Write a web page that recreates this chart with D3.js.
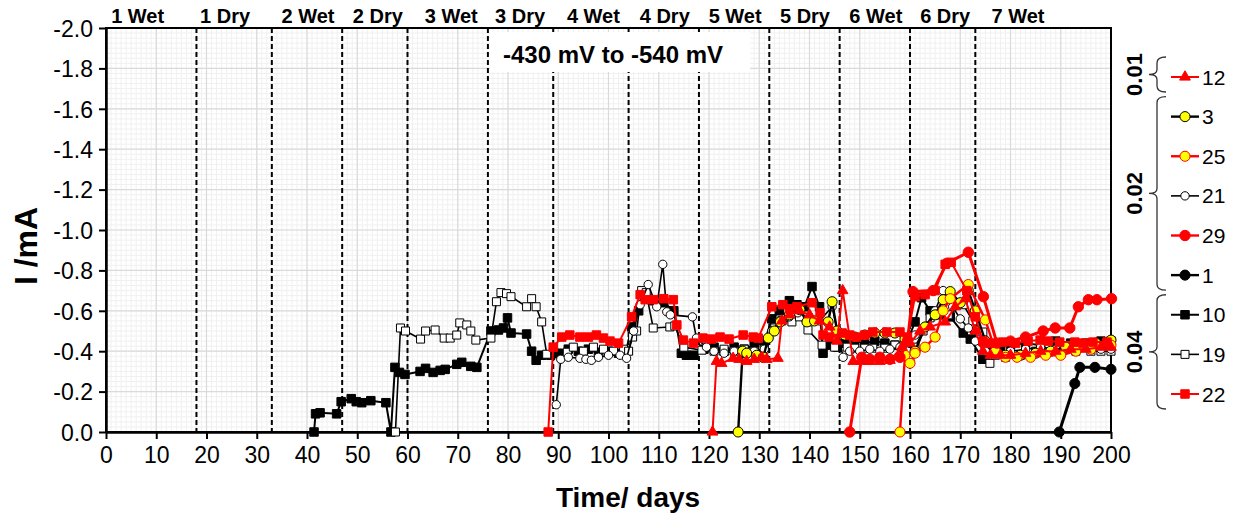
<!DOCTYPE html>
<html lang="en">
<head>
<meta charset="UTF-8">
<title>I vs time</title>
<style>
  * { margin: 0; padding: 0; }
  body { background: #fff; }
  svg text { font-family: Arial, "Liberation Sans", sans-serif; fill: #000; }
</style>
</head>
<body>
<div id="chart-area"></div>
<script src="https://cdn.jsdelivr.net/npm/d3@7/dist/d3.min.js"></script>
<script>
// cycle boundaries (days) and the labels along the top
const phaseDays = [18, 33, 47, 60, 76, 89, 104, 118, 132, 146, 160, 173]
const phaseLabels = ['1 Wet', '1 Dry', '2 Wet', '2 Dry', '3 Wet', '3 Dry', '4 Wet', '4 Dry', '5 Wet', '5 Dry', '6 Wet', '6 Dry', '7 Wet']
const phaseLabelDays = [6.3, 23.7, 40.2, 54.1, 68.7, 82.4, 97, 111.2, 125.2, 139.1, 153.2, 167, 181.5]

const xTicks = d3.range(0, 201, 10)
const yTicks = [0, -0.2, -0.4, -0.6, -0.8, -1.0, -1.2, -1.4, -1.6, -1.8, -2.0]

// [day, I (mA)]
const s10 = [[41.4,0],[41.7,-0.09],[42.6,-0.095],[45.9,-0.09],[46.8,-0.15],[48.8,-0.165],[49.8,-0.15],[50.9,-0.145],[52.7,-0.155],[55.7,-0.145],[56.7,0],[57.5,-0.32],[58.4,-0.295],[59.5,-0.285],[62.5,-0.3],[63.6,-0.315],[65.1,-0.295],[66.5,-0.305],[67.5,-0.31],[69.8,-0.335],[70.8,-0.345],[72.6,-0.325],[73.8,-0.32],[76.6,-0.5],[78.1,-0.505],[79.1,-0.515],[79.9,-0.565],[80.6,-0.49],[83.7,-0.485],[84.7,-0.4],[85.6,-0.355],[86.7,-0.38],[88.5,-0.38],[90,-0.39],[92,-0.41],[94,-0.4],[96,-0.41],[98,-0.39],[100,-0.4],[102,-0.39],[103.5,-0.4],[104.6,-0.52],[106,-0.6],[107.5,-0.66],[109,-0.65],[111,-0.64],[113,-0.6],[114.5,-0.39],[115.5,-0.38],[117,-0.38],[119,-0.41],[121,-0.42],[123,-0.4],[125,-0.42],[127,-0.41],[129,-0.43],[131,-0.44],[132.5,-0.56],[134,-0.6],[136,-0.65],[137.5,-0.63],[139,-0.62],[140.5,-0.72],[142,-0.62],[142.7,-0.39],[144,-0.43],[145.5,-0.42],[147,-0.44],[149,-0.45],[151,-0.44],[153,-0.45],[155,-0.44],[157,-0.43],[159,-0.42],[161,-0.545],[162.3,-0.665],[164,-0.6],[166,-0.58],[168,-0.57],[170.6,-0.49],[172,-0.46],[174.5,-0.36],[176,-0.41],[178,-0.42],[180,-0.43],[183,-0.44],[186,-0.43],[189,-0.45],[192,-0.44],[195,-0.44],[198,-0.45],[200,-0.45]]
const s19 = [[57.6,0],[58.6,-0.515],[59.6,-0.5],[62.6,-0.46],[63.6,-0.5],[65.5,-0.505],[67.3,-0.465],[68.5,-0.465],[69.8,-0.48],[70.4,-0.54],[71.8,-0.53],[72.6,-0.5],[73.6,-0.455],[76.6,-0.465],[77.7,-0.645],[78.6,-0.69],[79.7,-0.685],[80.6,-0.67],[83.7,-0.62],[84.7,-0.66],[85.6,-0.62],[86.7,-0.545],[87.7,-0.385],[91.8,-0.395],[93,-0.42],[95,-0.4],[97,-0.42],[99,-0.41],[101,-0.4],[103,-0.41],[104,-0.4],[104.8,-0.47],[105.6,-0.5],[106.6,-0.7],[107.5,-0.69],[108.9,-0.515],[112.2,-0.52],[113.2,-0.525],[115,-0.42],[118.6,-0.405],[121,-0.4],[123,-0.41],[125,-0.4],[127,-0.41],[129,-0.4],[131,-0.41],[133.1,-0.515],[134.5,-0.55],[136.5,-0.545],[138,-0.57],[139.7,-0.505],[142.5,-0.43],[145,-0.42],[147.5,-0.42],[149,-0.415],[151,-0.415],[152.6,-0.415],[155,-0.415],[157,-0.43],[159,-0.42],[160,-0.36],[161,-0.42],[162.6,-0.5],[164,-0.565],[165.4,-0.59],[167.6,-0.58],[170.6,-0.63],[172.5,-0.55],[174.5,-0.495],[175.9,-0.34],[177,-0.38],[179,-0.37],[182,-0.38],[185,-0.4],[187,-0.39],[190,-0.41],[193,-0.4],[196,-0.4],[198,-0.4],[200,-0.4]]
const s22 = [[88,0],[89,-0.42],[90.7,-0.47],[92.3,-0.48],[94.3,-0.47],[96,-0.47],[97.6,-0.48],[99,-0.465],[100.3,-0.45],[102,-0.44],[104.6,-0.57],[106.3,-0.68],[107.3,-0.655],[108.9,-0.655],[111,-0.66],[112.9,-0.655],[113.6,-0.53],[114.9,-0.455],[116.9,-0.44],[118.8,-0.465],[120.5,-0.46],[122.2,-0.47],[124,-0.46],[126.8,-0.48],[128.8,-0.47],[129.8,-0.465],[132.5,-0.62],[134.7,-0.63],[136,-0.61],[137.5,-0.62],[140.5,-0.64],[142.1,-0.59],[142.7,-0.48],[144,-0.47],[146.5,-0.49],[148,-0.48],[149.4,-0.47],[151,-0.48],[152.6,-0.495],[155.4,-0.495],[158,-0.495],[159.5,-0.47],[161,-0.67],[163,-0.68],[165,-0.7],[167,-0.83],[168.2,-0.84],[171.3,-0.7],[173,-0.57],[174.5,-0.45],[175.9,-0.44],[178.5,-0.445],[181,-0.44],[183.5,-0.45],[185.9,-0.455],[187.5,-0.45],[189.8,-0.445],[192.8,-0.445],[194.5,-0.44],[196.4,-0.445],[199.2,-0.445]]
const s29 = [[148,0],[150.4,-0.37],[152,-0.36],[154,-0.37],[156,-0.36],[158,-0.37],[159.5,-0.45],[160.6,-0.695],[164.6,-0.7],[167.3,-0.835],[171.6,-0.89],[174.6,-0.67],[177.3,-0.44],[180,-0.45],[183,-0.47],[186.5,-0.5],[188.9,-0.515],[191.8,-0.515],[193.5,-0.62],[195.5,-0.655],[197.2,-0.655],[200.1,-0.66]]
const s12 = [[120.7,0],[121.5,-0.35],[122.5,-0.34],[124.8,-0.365],[126,-0.36],[127.5,-0.35],[129,-0.36],[130.5,-0.37],[131.5,-0.36],[133.7,-0.365],[134.5,-0.55],[136,-0.58],[138,-0.6],[140,-0.58],[142,-0.55],[144,-0.52],[145.5,-0.45],[146.6,-0.7],[148.7,-0.35],[150.4,-0.35],[152,-0.35],[154,-0.35],[156,-0.355],[158.4,-0.42],[160,-0.44],[162,-0.5],[164,-0.52],[167,-0.545],[169,-0.62],[171,-0.66],[173,-0.5],[174.5,-0.4],[176,-0.38],[178,-0.38],[180,-0.38],[183,-0.39],[186,-0.4],[189,-0.4],[192,-0.41],[195,-0.41],[198,-0.42],[200,-0.42]]
const s3 = [[125.8,0],[126.7,-0.4],[127.5,-0.39],[129.5,-0.38],[130.8,-0.37],[131.8,-0.465],[133,-0.5],[134.2,-0.545],[136,-0.58],[138.1,-0.605],[139.5,-0.545],[141,-0.55],[143.7,-0.545],[144.5,-0.645],[145.5,-0.5],[147,-0.48],[149,-0.47],[151,-0.48],[153,-0.49],[155,-0.49],[157,-0.49],[159,-0.46],[161,-0.4],[163,-0.52],[165,-0.58],[166.6,-0.655],[168,-0.695],[170,-0.64],[171.6,-0.7],[173,-0.6],[175,-0.45],[177,-0.4],[179,-0.38],[182,-0.38],[185,-0.39],[188,-0.4],[191,-0.42],[194,-0.43],[197,-0.44],[200,-0.455]]
const s25 = [[158,0],[159,-0.38],[160,-0.34],[161,-0.39],[163,-0.42],[165,-0.47],[166.6,-0.6],[168,-0.66],[171.6,-0.73],[175,-0.555],[177,-0.4],[179,-0.37],[181.3,-0.37],[184,-0.37],[187,-0.38],[190,-0.38],[193,-0.4],[196,-0.41],[200,-0.43]]
const s21 = [[89.6,-0.135],[90.5,-0.36],[92,-0.37],[94.3,-0.365],[95.5,-0.36],[96.6,-0.355],[98,-0.37],[100,-0.38],[102.3,-0.38],[103.6,-0.365],[105,-0.5],[106.3,-0.63],[107.9,-0.73],[109.6,-0.62],[110.8,-0.83],[111.6,-0.595],[112.3,-0.58],[116.7,-0.57],[117.5,-0.465],[119.5,-0.42],[121,-0.4],[123,-0.39],[125,-0.4],[127,-0.39],[129,-0.4],[131,-0.41],[132.5,-0.5],[134,-0.55],[136,-0.57],[137.7,-0.59],[140.1,-0.565],[142,-0.55],[144.5,-0.62],[146.7,-0.37],[148,-0.4],[150,-0.4],[152,-0.41],[154,-0.4],[156,-0.41],[158,-0.42],[159.5,-0.4],[161,-0.48],[163,-0.52],[165,-0.6],[166.6,-0.7],[168.5,-0.62],[170,-0.56],[171.6,-0.515],[173,-0.45],[175,-0.4],[177,-0.39],[180,-0.4],[183,-0.41],[186,-0.42],[189,-0.41],[192,-0.42],[195,-0.42],[198,-0.41],[200,-0.41]]
const s1 = [[189.7,0],[192.8,-0.24],[193.8,-0.32],[196.8,-0.32],[200,-0.31]]

// legend groups (right side)
const legendGroups = [
  {label: '0.01', keys: ['12']},
  {label: '0.02', keys: ['3', '25', '21', '29', '1']},
  {label: '0.04', keys: ['10', '19', '22']}
]

const series = {
  '10': {data: s10, line: '#000', lw: 2, shape: d3.symbolSquare, size: 72, fill: '#000', stroke: '#000'},
  '19': {data: s19, line: '#000', lw: 1.6, shape: d3.symbolSquare, size: 64, fill: '#fff', stroke: '#000'},
  '21': {data: s21, line: '#000', lw: 1.6, shape: d3.symbolCircle, size: 55, fill: '#fff', stroke: '#000'},
  '3': {data: s3, line: '#000', lw: 2.4, shape: d3.symbolCircle, size: 80, fill: '#ffff00', stroke: '#000'},
  '25': {data: s25, line: '#ff0000', lw: 2.4, shape: d3.symbolCircle, size: 80, fill: '#ffff00', stroke: '#ff0000'},
  '12': {data: s12, line: '#ff0000', lw: 2, shape: d3.symbolTriangle, size: 50, fill: '#ff0000', stroke: '#ff0000'},
  '29': {data: s29, line: '#ff0000', lw: 3, shape: d3.symbolCircle, size: 85, fill: '#ff0000', stroke: '#ff0000'},
  '22': {data: s22, line: '#ff0000', lw: 2, shape: d3.symbolSquare, size: 72, fill: '#ff0000', stroke: '#ff0000'},
  '1': {data: s1, line: '#000', lw: 3, shape: d3.symbolCircle, size: 80, fill: '#000', stroke: '#000'}
}
const drawOrder = ['10', '19', '21', '3', '25', '12', '29', '22', '1']

const MARGIN = {LEFT: 106, TOP: 28, RIGHT: 129, BOTTOM: 85}
const WIDTH = 1240 - MARGIN.LEFT - MARGIN.RIGHT
const HEIGHT = 517 - MARGIN.TOP - MARGIN.BOTTOM

const svg = d3.select('#chart-area').append('svg')
  .attr('width', 1240)
  .attr('height', 517)
  .style('display', 'block')

const g = svg.append('g').attr('transform', `translate(${MARGIN.LEFT}, ${MARGIN.TOP})`)

const x = d3.scaleLinear().domain([0, 200]).range([0, WIDTH])
const y = d3.scaleLinear().domain([0, -2]).range([HEIGHT, 0])

// graph-paper grid
const grid = g.append('g').attr('class', 'grid')
grid.selectAll('line.vmin').data(d3.range(0, 201, 1)).join('line')
  .attr('x1', d => x(d)).attr('x2', d => x(d)).attr('y1', 0).attr('y2', HEIGHT)
  .attr('stroke', '#f0f0f0').attr('stroke-width', 1)
grid.selectAll('line.hmin').data(d3.range(0, 81, 1).map(i => -i * 0.025)).join('line')
  .attr('x1', 0).attr('x2', WIDTH).attr('y1', d => y(d)).attr('y2', d => y(d))
  .attr('stroke', '#f0f0f0').attr('stroke-width', 1)
grid.selectAll('line.vmaj').data(xTicks).join('line')
  .attr('x1', d => x(d)).attr('x2', d => x(d)).attr('y1', 0).attr('y2', HEIGHT)
  .attr('stroke', '#dadada').attr('stroke-width', 1.2)
grid.selectAll('line.hmaj').data(yTicks).join('line')
  .attr('x1', 0).attr('x2', WIDTH).attr('y1', d => y(d)).attr('y2', d => y(d))
  .attr('stroke', '#dadada').attr('stroke-width', 1.2)

// wet/dry boundaries
g.append('g').selectAll('line').data(phaseDays).join('line')
  .attr('x1', d => x(d)).attr('x2', d => x(d)).attr('y1', 0).attr('y2', HEIGHT)
  .attr('stroke', '#000').attr('stroke-width', 2).attr('stroke-dasharray', '5,3')

// potential box
g.append('rect')
  .attr('x', 384).attr('y', 4).attr('width', 260).attr('height', 40)
  .attr('fill', '#fff')
g.append('text')
  .attr('x', 507).attr('y', 35)
  .attr('text-anchor', 'middle')
  .attr('font-size', '24px').attr('font-weight', 'bold')
  .text('-430 mV to -540 mV')

// frame
g.append('rect').attr('width', WIDTH).attr('height', HEIGHT)
  .attr('fill', 'none').attr('stroke', '#000').attr('stroke-width', 2)

const yAxisCall = d3.axisLeft(y).tickValues(yTicks).tickFormat(d => d.toFixed(1)).tickSizeInner(7).tickSizeOuter(0).tickPadding(6)
g.append('g').attr('class', 'y-axis')
  .call(yAxisCall)
  .call(a => a.select('.domain').attr('stroke-width', 2.5))
  .call(a => a.selectAll('.tick line').attr('stroke-width', 2))
  .call(a => a.selectAll('.tick text').attr('font-size', '23px').attr('font-family', 'Arial, "Liberation Sans", sans-serif').attr('dy', '0.36em'))

const xAxisCall = d3.axisBottom(x).tickValues(xTicks).tickSizeInner(7).tickSizeOuter(0).tickPadding(8)
g.append('g').attr('class', 'x-axis')
  .attr('transform', `translate(0, ${HEIGHT})`)
  .call(xAxisCall)
  .call(a => a.select('.domain').attr('stroke-width', 2.5))
  .call(a => a.selectAll('.tick line').attr('stroke-width', 2))
  .call(a => a.selectAll('.tick text').attr('font-size', '23px').attr('font-family', 'Arial, "Liberation Sans", sans-serif'))

// phase labels on top
g.append('g').selectAll('text').data(phaseLabels).join('text')
  .attr('x', (d, i) => x(phaseLabelDays[i]))
  .attr('y', -5)
  .attr('text-anchor', 'middle')
  .attr('font-size', '20px').attr('font-weight', 'bold')
  .text(d => d)

// axis titles
svg.append('text')
  .attr('transform', `translate(37, ${MARGIN.TOP + HEIGHT / 2 + 16}) rotate(-90)`)
  .attr('text-anchor', 'middle')
  .attr('font-size', '32px').attr('font-weight', 'bold')
  .text('I /mA')

svg.append('text')
  .attr('x', 628).attr('y', 507)
  .attr('text-anchor', 'middle')
  .attr('font-size', '28px').attr('font-weight', 'bold')
  .text('Time/ days')

// series
const line = d3.line().x(d => x(d[0])).y(d => y(d[1]))
drawOrder.forEach(key => {
  const s = series[key]
  const sg = g.append('g').attr('class', 'series-' + key)
  sg.append('path').datum(s.data)
    .attr('d', line)
    .attr('fill', 'none')
    .attr('stroke', s.line).attr('stroke-width', s.lw)
    .attr('stroke-linejoin', 'round')
  sg.selectAll('path.mk').data(s.data).join('path').attr('class', 'mk')
    .attr('transform', d => `translate(${x(d[0])}, ${y(d[1])})`)
    .attr('d', d3.symbol(s.shape, s.size))
    .attr('fill', s.fill).attr('stroke', s.stroke).attr('stroke-width', 1)
})

// legend
const legKeys = legendGroups.flatMap(gr => gr.keys)
const legY = d3.scalePoint().domain(legKeys).range([77, 394])
const leg = svg.append('g').attr('class', 'legend')
legKeys.forEach(key => {
  const s = series[key]
  const ly = legY(key)
  leg.append('line').attr('x1', 1171).attr('x2', 1199).attr('y1', ly).attr('y2', ly)
    .attr('stroke', s.line).attr('stroke-width', Math.min(s.lw, 2.4))
  leg.append('path')
    .attr('transform', `translate(1185, ${ly})`)
    .attr('d', d3.symbol(s.shape, s.size))
    .attr('fill', s.fill).attr('stroke', s.stroke).attr('stroke-width', 1)
  leg.append('text')
    .attr('x', 1202).attr('y', ly).attr('dy', '0.36em')
    .attr('font-size', '21px')
    .text(key)
})

legendGroups.forEach(gr => {
  const y0 = legY(gr.keys[0]) - 20
  const y1 = legY(gr.keys[gr.keys.length - 1]) + 15
  const ym = (y0 + y1) / 2
  const bx = 1157
  const path = `M${bx + 9},${y0} Q${bx},${y0} ${bx},${y0 + 6} L${bx},${ym - 5} Q${bx},${ym} ${bx - 8},${ym}` +
    ` Q${bx},${ym} ${bx},${ym + 5} L${bx},${y1 - 6} Q${bx},${y1} ${bx + 9},${y1}`
  leg.append('path').attr('d', path).attr('fill', 'none').attr('stroke', '#333').attr('stroke-width', 1.3)
  leg.append('text')
    .attr('transform', `translate(1142, ${ym}) rotate(-90)`)
    .attr('text-anchor', 'middle')
    .attr('font-size', '22px').attr('font-weight', 'bold')
    .text(gr.label)
})
</script>
</body>
</html>
